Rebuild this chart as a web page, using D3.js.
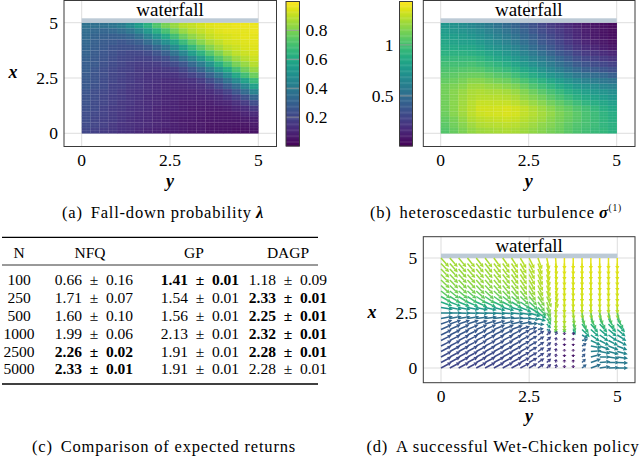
<!DOCTYPE html>
<html>
<head>
<meta charset="utf-8">
<script src="https://cdn.jsdelivr.net/npm/d3@7"></script>
<style>
  body { margin: 0; background: #fff; }
  svg { display: block; }
  text { font-family: "Liberation Serif", "Times New Roman", serif; fill: #000; }
</style>
</head>
<body>
<svg id="fig" width="640" height="457"></svg>
<script>
// ---------- data ----------
const axisTicks = [0, 2.5, 5];
const lambdaTicks = [0.2, 0.4, 0.6, 0.8];
const sigmaTicks = [0.5, 1];

// fall-down probability, rows from x=5 (top) to x=0, columns y=0..5 (20x20 cells)
const lambdaGrid = [
  [.37,.36,.36,.38,.41,.47,.55,.63,.72,.79,.84,.89,.91,.93,.95,.96,.96,.97,.97,.97],
  [.35,.33,.32,.33,.35,.39,.45,.53,.62,.70,.78,.84,.88,.91,.93,.95,.96,.96,.96,.97],
  [.34,.31,.30,.29,.30,.32,.36,.43,.51,.60,.69,.77,.83,.87,.91,.93,.94,.95,.96,.96],
  [.33,.30,.28,.27,.26,.27,.29,.34,.41,.49,.58,.67,.75,.82,.87,.90,.93,.94,.95,.96],
  [.32,.29,.27,.25,.24,.24,.25,.27,.32,.38,.47,.56,.66,.74,.81,.86,.90,.92,.94,.95],
  [.31,.28,.26,.24,.22,.21,.21,.22,.25,.30,.37,.45,.55,.64,.73,.80,.86,.90,.92,.94],
  [.30,.27,.25,.23,.21,.20,.19,.19,.21,.23,.28,.35,.43,.53,.63,.72,.79,.85,.89,.92],
  [.29,.27,.24,.22,.20,.18,.17,.17,.17,.19,.22,.26,.33,.41,.51,.62,.71,.79,.84,.89],
  [.29,.26,.23,.21,.19,.18,.16,.16,.15,.16,.17,.20,.25,.31,.40,.50,.60,.70,.78,.84],
  [.28,.25,.23,.20,.19,.17,.16,.14,.14,.14,.14,.16,.19,.23,.30,.38,.48,.59,.69,.77],
  [.27,.25,.22,.20,.18,.17,.15,.14,.13,.12,.12,.13,.14,.17,.22,.28,.37,.47,.57,.67],
  [.27,.24,.22,.19,.18,.16,.15,.13,.12,.11,.11,.11,.12,.13,.16,.21,.27,.35,.45,.56],
  [.26,.23,.21,.19,.17,.15,.14,.13,.12,.11,.10,.10,.10,.11,.12,.15,.19,.26,.34,.44],
  [.25,.23,.20,.18,.17,.15,.14,.12,.11,.10,.10,.09,.09,.09,.10,.11,.14,.18,.24,.32],
  [.25,.22,.20,.18,.16,.15,.13,.12,.11,.10,.09,.08,.08,.08,.08,.09,.10,.13,.17,.23],
  [.24,.22,.19,.17,.16,.14,.13,.12,.10,.09,.09,.08,.07,.07,.07,.07,.08,.10,.12,.16],
  [.23,.21,.19,.17,.15,.14,.12,.11,.10,.09,.08,.08,.07,.07,.06,.06,.06,.07,.09,.11],
  [.23,.20,.18,.17,.15,.13,.12,.11,.10,.09,.08,.07,.07,.06,.06,.06,.06,.06,.07,.08],
  [.22,.20,.18,.16,.14,.13,.12,.11,.10,.09,.08,.07,.06,.06,.05,.05,.05,.05,.05,.06],
  [.21,.19,.17,.16,.14,.13,.11,.10,.09,.08,.08,.07,.06,.06,.05,.05,.05,.04,.04,.05]
];

// heteroscedastic turbulence, same layout
const sigmaGrid = [
  [.75,.72,.69,.66,.62,.58,.54,.49,.45,.40,.35,.30,.25,.21,.17,.13,.10,.08,.06,.04],
  [.78,.75,.73,.70,.67,.62,.58,.54,.49,.44,.38,.33,.28,.24,.19,.15,.11,.09,.07,.05],
  [.81,.79,.77,.74,.71,.67,.62,.58,.53,.47,.42,.36,.31,.26,.21,.16,.13,.10,.08,.06],
  [.84,.82,.80,.79,.76,.71,.67,.62,.57,.51,.45,.39,.34,.29,.23,.18,.14,.11,.09,.06],
  [.87,.86,.85,.84,.81,.76,.72,.68,.63,.57,.50,.44,.39,.33,.27,.22,.18,.15,.12,.09],
  [.91,.90,.90,.89,.87,.83,.79,.75,.70,.63,.57,.51,.45,.39,.34,.28,.24,.21,.18,.15],
  [.95,.95,.95,.95,.93,.89,.85,.81,.76,.70,.64,.58,.52,.46,.40,.34,.30,.27,.24,.21],
  [.99,.99,.99,1.00,.98,.95,.92,.88,.83,.77,.71,.65,.59,.52,.46,.40,.36,.33,.30,.27],
  [1.02,1.03,1.04,1.05,1.04,1.01,.98,.95,.91,.85,.79,.72,.66,.60,.54,.48,.43,.40,.37,.34],
  [1.05,1.07,1.09,1.10,1.10,1.08,1.05,1.03,.98,.93,.87,.81,.75,.69,.63,.57,.53,.50,.47,.43],
  [1.08,1.10,1.13,1.16,1.16,1.14,1.12,1.10,1.06,1.01,.95,.90,.84,.78,.72,.67,.62,.59,.56,.53],
  [1.11,1.14,1.17,1.21,1.22,1.20,1.19,1.17,1.14,1.09,1.03,.98,.93,.87,.82,.76,.72,.69,.65,.62],
  [1.12,1.16,1.20,1.24,1.25,1.24,1.24,1.23,1.20,1.15,1.10,1.05,1.00,.95,.89,.84,.80,.76,.73,.69],
  [1.12,1.16,1.21,1.25,1.27,1.27,1.27,1.26,1.24,1.19,1.15,1.11,1.06,1.01,.96,.90,.86,.82,.78,.74],
  [1.11,1.17,1.22,1.27,1.30,1.30,1.30,1.30,1.28,1.24,1.20,1.16,1.11,1.07,1.02,.97,.92,.88,.84,.80],
  [1.11,1.17,1.23,1.28,1.32,1.32,1.33,1.34,1.32,1.29,1.25,1.21,1.17,1.12,1.08,1.03,.99,.94,.89,.85],
  [1.10,1.16,1.22,1.28,1.31,1.32,1.33,1.34,1.33,1.29,1.26,1.23,1.19,1.14,1.10,1.06,1.01,.97,.92,.88],
  [1.08,1.13,1.19,1.25,1.28,1.29,1.30,1.31,1.30,1.27,1.24,1.21,1.17,1.13,1.09,1.05,1.01,.97,.93,.89],
  [1.06,1.11,1.16,1.22,1.25,1.26,1.27,1.28,1.27,1.24,1.21,1.18,1.15,1.11,1.07,1.03,1.00,.97,.93,.90],
  [1.04,1.09,1.14,1.19,1.22,1.23,1.24,1.25,1.24,1.22,1.19,1.16,1.13,1.10,1.06,1.02,.99,.96,.94,.91]
];

// table (c)
const tableHeader = ["N", "NFQ", "GP", "DAGP"];
const sampleSizes = [100, 250, 500, 1000, 2500, 5000];
const nfqMean = [0.66, 1.71, 1.60, 1.99, 2.26, 2.33];
const nfqStd  = [0.16, 0.07, 0.10, 0.06, 0.02, 0.01];
const gpMean  = [1.41, 1.54, 1.56, 2.13, 1.91, 1.91];
const gpStd   = [0.01, 0.01, 0.01, 0.01, 0.01, 0.01];
const dagpMean = [1.18, 2.33, 2.25, 2.32, 2.28, 2.28];
const dagpStd  = [0.09, 0.01, 0.01, 0.01, 0.01, 0.01];
const nfqBest  = [false, false, false, false, true, true];
const gpBest   = [true, false, false, false, false, false];
const dagpBest = [false, true, true, true, true, false];

// policy (d): rows x=5 (top) .. 0 step 0.25, columns y=0..5 step 0.25
const quiverAngle = [
  [-48,-49,-50,-51,-52,-53,-54,-55,-57,-60,-64,-70,-78,-86,-90,-90,-90,-90,-90,-90,-90],
  [-47,-48,-49,-50,-51,-52,-53,-54,-56,-59,-63,-69,-77,-85,-90,-90,-90,-90,-90,-90,-90],
  [-46,-47,-48,-49,-50,-51,-52,-53,-55,-58,-62,-68,-76,-85,-90,-90,-90,-90,-90,-90,-90],
  [-45,-46,-47,-48,-49,-50,-51,-52,-54,-57,-61,-67,-75,-84,-90,-90,-90,-90,-90,-90,-90],
  [-44,-45,-46,-47,-48,-49,-50,-51,-53,-56,-60,-66,-74,-83,-90,-90,-90,-90,-90,-90,-90],
  [-42,-43,-44,-45,-46,-47,-48,-50,-52,-55,-59,-65,-73,-82,-90,-90,-90,-90,-90,-90,-90],
  [-38,-39,-40,-41,-42,-43,-44,-46,-48,-51,-56,-62,-71,-81,-90,-90,-90,-90,-90,-90,-90],
  [-30,-31,-32,-33,-34,-35,-36,-38,-40,-44,-49,-56,-67,-80,-90,-90,-90,-90,-90,-90,-90],
  [-20,-21,-22,-23,-24,-25,-26,-28,-30,-34,-42,-55,-72,-88,-90,-90,-90,-90,-90,-90,-90],
  [-9,-10,-10,-11,-12,-13,-14,-15,-17,-21,-30,-45,-68,-88,-90,-88,-88,-88,-88,-88,-88],
  [0,0,-1,-1,-2,-2,-3,-4,-6,-9,-16,-32,-62,-88,-90,-85,-80,-78,-76,-75,-75],
  [10,10,9,9,8,8,7,6,4,1,-5,-18,-55,-88,-90,-80,-68,-64,-62,-60,-60],
  [19,19,18,18,17,17,16,15,13,10,5,-5,-45,-88,-90,-75,-55,-50,-48,-47,-47],
  [24,24,24,23,23,23,22,22,20,18,15,10,-20,-85,-90,-70,-45,-42,-40,-40,-40],
  [26,26,26,26,26,26,26,26,27,28,30,34,42,70,90,80,-30,-35,-35,-34,-33],
  [27,27,27,27,27,27,27,27,28,28,30,34,42,75,90,90,10,-25,-28,-28,-27],
  [27,27,27,27,27,27,27,27,28,28,30,34,42,80,90,90,30,-10,-20,-22,-22],
  [28,28,28,28,28,28,28,28,28,28,30,34,42,80,90,90,40,5,-10,-15,-15],
  [28,28,28,28,28,28,28,28,28,28,30,34,42,80,90,90,45,15,0,-8,-8],
  [28,28,28,28,28,28,28,28,28,28,30,34,42,80,90,90,45,20,5,0,-3],
  [28,28,28,28,28,28,28,28,28,28,30,34,42,75,90,90,40,20,8,2,0]
];
const quiverLen = [
  [1,1,1,1,1,1,1,1,1,1,1,1,1,1,1,1,1,1,1,1,1],
  [1,1,1,1,1,1,1,1,1,1,1,1,1,1,1,1,1,1,1,1,1],
  [1,1,1,1,1,1,1,1,1,1,1,1,1,1,1,1,1,1,1,1,1],
  [1,1,1,1,1,1,1,1,1,1,1,1,1,1,1,1,1,1,1,1,1],
  [1,1,1,1,1,1,1,1,1,1,1,1,1,1,1,1,1,1,1,1,1],
  [1,1,1,1,1,1,1,1,1,1,1,1,1,1,1,1,1,1,1,1,1],
  [1,1,1,1,1,1,1,1,1,1,1,1,1,1,1,1,1,1,1,1,1],
  [1,1,1,1,1,1,1,1,1,1,1,1,1,1,1,1,1,1,1,1,1],
  [1,1,1,1,1,1,1,1,1,1,1,1,1,1,1,1,1,1,1,1,1],
  [1,1,1,1,1,1,1,1,1,1,1,1,.9,1,1,1,1,1,1,1,1],
  [1,1,1,1,1,1,1,1,1,1,1,.85,.8,1,1,1,1,1,1,1,1],
  [1,1,1,1,1,1,1,1,1,1,.85,.7,.65,.95,.95,.9,1,1,1,1,1],
  [1,1,1,1,1,1,1,1,1,1,.75,.55,.5,.75,.75,.7,.95,.95,.95,.95,.95],
  [1,1,1,1,1,1,1,1,1,.85,.7,.5,.35,.35,.3,.5,.9,.9,.9,.9,.9],
  [1,1,1,1,1,1,1,1,1,.9,.8,.65,.5,.35,.25,.25,.6,.9,.9,.9,.9],
  [1,1,1,1,1,1,1,1,1,.9,.8,.65,.5,.3,.22,.22,.5,.9,.9,.9,.9],
  [1,1,1,1,1,1,1,1,1,.9,.8,.65,.5,.3,.22,.2,.45,.9,.9,.9,.9],
  [1,1,1,1,1,1,1,1,1,.9,.8,.65,.5,.3,.2,.2,.4,.9,.9,.9,.9],
  [1,1,1,1,1,1,1,1,1,.9,.8,.65,.5,.3,.22,.22,.4,.9,.9,.9,.9],
  [1,1,1,1,1,1,1,1,1,.9,.8,.65,.5,.3,.25,.25,.45,.9,.9,.9,.9],
  [1,1,1,1,1,1,1,1,1,.9,.8,.65,.5,.35,.25,.25,.5,.9,.9,.9,.9]
];
const quiverColor = [
  [.86,.86,.86,.87,.87,.87,.88,.88,.88,.89,.90,.91,.93,.95,.96,.96,.96,.96,.96,.96,.96],
  [.85,.85,.85,.86,.86,.86,.87,.87,.88,.88,.89,.90,.92,.94,.95,.95,.95,.95,.95,.95,.95],
  [.84,.84,.84,.85,.85,.85,.86,.86,.87,.87,.88,.90,.92,.94,.95,.95,.95,.95,.95,.95,.95],
  [.83,.83,.83,.84,.84,.84,.85,.85,.86,.87,.88,.89,.91,.93,.94,.94,.94,.94,.94,.94,.94],
  [.82,.82,.82,.83,.83,.83,.84,.84,.85,.86,.87,.88,.91,.93,.94,.94,.94,.94,.94,.94,.94],
  [.79,.79,.80,.80,.80,.81,.81,.82,.83,.84,.85,.87,.90,.93,.94,.94,.94,.94,.94,.94,.94],
  [.75,.75,.76,.76,.77,.77,.78,.79,.80,.81,.83,.85,.88,.92,.93,.93,.93,.93,.93,.93,.93],
  [.70,.70,.71,.71,.72,.72,.73,.74,.75,.76,.78,.81,.85,.90,.93,.93,.93,.93,.93,.93,.93],
  [.62,.62,.63,.63,.64,.64,.65,.66,.67,.69,.72,.77,.84,.90,.92,.92,.92,.92,.92,.92,.92],
  [.52,.52,.53,.53,.54,.54,.55,.56,.57,.59,.63,.70,.80,.89,.91,.90,.90,.90,.89,.88,.88],
  [.45,.45,.45,.46,.46,.46,.47,.47,.48,.50,.54,.62,.75,.88,.90,.85,.80,.78,.77,.76,.75],
  [.36,.36,.36,.37,.37,.37,.38,.38,.39,.41,.45,.52,.68,.86,.88,.80,.72,.70,.69,.68,.68],
  [.29,.29,.29,.30,.30,.30,.30,.31,.32,.33,.36,.42,.58,.84,.85,.72,.66,.64,.63,.62,.62],
  [.28,.28,.28,.28,.28,.28,.28,.28,.28,.28,.29,.31,.40,.75,.75,.60,.60,.59,.58,.57,.57],
  [.27,.27,.27,.27,.27,.27,.27,.27,.27,.26,.25,.24,.22,.20,.10,.10,.45,.55,.54,.53,.53],
  [.26,.26,.26,.26,.26,.26,.26,.26,.26,.26,.25,.24,.22,.17,.08,.08,.35,.50,.50,.50,.49],
  [.25,.25,.25,.25,.25,.25,.25,.25,.25,.25,.25,.24,.22,.15,.07,.06,.30,.46,.47,.47,.47],
  [.24,.24,.24,.24,.24,.24,.24,.24,.24,.24,.24,.23,.21,.14,.06,.05,.28,.43,.44,.45,.45],
  [.23,.23,.23,.23,.23,.23,.23,.23,.23,.23,.23,.22,.20,.13,.06,.05,.28,.40,.42,.42,.42],
  [.22,.22,.22,.22,.22,.22,.22,.22,.22,.22,.22,.21,.19,.14,.07,.06,.30,.38,.40,.40,.40],
  [.21,.21,.21,.21,.21,.21,.21,.21,.21,.21,.21,.20,.18,.16,.08,.07,.32,.37,.38,.39,.40]
];

// ---------- layout ----------
const svg = d3.select("#fig");
const FRAME = "#3a3a3a", GRID = "#d4d4d4", BAND = "#bccad6";
const TICK_FONT = 17.5;

const topX = d3.scaleLinear([0, 5], [133.3, 22.7]);   // state x (vertical) in top panels
const yA = d3.scaleLinear([0, 5], [81.7, 258.3]);
const yB = d3.scaleLinear([0, 5], [440.7, 616.7]);
const yD = d3.scaleLinear([0, 5], [441, 617.3]);
const xD = d3.scaleLinear([0, 5], [368, 258]);

const boxA = { x0: 64, y0: 0.5, x1: 276.5, y1: 146.5 };
const boxB = { x0: 423.3, y0: 0.5, x1: 635, y1: 146.5 };
const boxD = { x0: 423.3, y0: 236.7, x1: 635, y1: 382.7 };

function axesFrame(box, hs, vs, showLeft) {
  const g = svg.append("g");
  g.append("rect")
    .attr("x", box.x0).attr("y", box.y0)
    .attr("width", box.x1 - box.x0).attr("height", box.y1 - box.y0)
    .attr("fill", "#fff");
  axisTicks.forEach(t => {
    g.append("line").attr("x1", hs(t)).attr("x2", hs(t))
      .attr("y1", box.y0).attr("y2", box.y1)
      .attr("stroke", GRID).attr("stroke-width", 0.8);
    g.append("line").attr("x1", box.x0).attr("x2", box.x1)
      .attr("y1", vs(t)).attr("y2", vs(t))
      .attr("stroke", GRID).attr("stroke-width", 0.8);
    g.append("text").attr("x", hs(t)).attr("y", box.y1 + 19.5)
      .attr("text-anchor", "middle").attr("font-size", TICK_FONT)
      .text(d3.format("~g")(t));
    if (showLeft) {
      g.append("text").attr("x", box.x0 - 6).attr("y", vs(t) + 6)
        .attr("text-anchor", "end").attr("font-size", TICK_FONT)
        .text(d3.format("~g")(t));
    }
  });
  return g;
}

function frameBorder(box) {
  svg.append("rect")
    .attr("x", box.x0).attr("y", box.y0)
    .attr("width", box.x1 - box.x0).attr("height", box.y1 - box.y0)
    .attr("fill", "none").attr("stroke", FRAME).attr("stroke-width", 1);
}

function waterfall(g, hs, vs, baseline) {
  g.append("rect")
    .attr("x", hs(0)).attr("width", hs(5) - hs(0))
    .attr("y", vs(5) - 4.4).attr("height", 4.4)
    .attr("fill", BAND);
  g.append("text")
    .attr("x", (hs(0) + hs(5)) / 2).attr("y", baseline)
    .attr("text-anchor", "middle").attr("font-size", 19)
    .text("waterfall");
}

function heatmap(g, grid, hs, vs, color) {
  const cells = [];
  grid.forEach((row, i) => row.forEach((v, j) => cells.push({ i, j, v })));
  const nr = grid.length, nc = grid[0].length;
  const dy = 5 / nc, dx = 5 / nr;
  g.append("g").selectAll("rect").data(cells).join("rect")
    .attr("x", d => hs(d.j * dy))
    .attr("y", d => vs(5 - d.i * dx))
    .attr("width", hs(dy) - hs(0) + 0.25)
    .attr("height", vs(0) - vs(dx) + 0.25)
    .attr("fill", d => color(d.v));
  // faint mesh like the rasterised surface plot
  const mesh = d3.range(1, 40).map(k => k * 0.125);
  const gm = g.append("g").attr("stroke", "#fff").attr("stroke-opacity", 0.13).attr("stroke-width", 0.7);
  mesh.forEach(m => {
    gm.append("line").attr("x1", hs(0)).attr("x2", hs(5)).attr("y1", vs(m)).attr("y2", vs(m));
    gm.append("line").attr("x1", hs(m)).attr("x2", hs(m)).attr("y1", vs(0)).attr("y2", vs(5))
      .attr("stroke-opacity", 0.07);
  });
}

function colorbar(x0, x1, y0, y1, domain, ticks, labelSide) {
  const g = svg.append("g");
  const cs = d3.scaleLinear(domain, [y1, y0]);
  const steps = d3.range(0, 120);
  const dv = (domain[1] - domain[0]) / steps.length;
  g.selectAll("rect.s").data(steps).join("rect")
    .attr("x", x0).attr("width", x1 - x0)
    .attr("y", k => cs(domain[0] + (k + 1) * dv))
    .attr("height", k => cs(domain[0] + k * dv) - cs(domain[0] + (k + 1) * dv) + 0.4)
    .attr("fill", k => d3.interpolateViridis((k + 0.5) / steps.length));
  ticks.forEach(t => {
    g.append("line").attr("x1", x0).attr("x2", x1)
      .attr("y1", cs(t)).attr("y2", cs(t))
      .attr("stroke", "#9a9a9a").attr("stroke-width", 0.8);
    g.append("text")
      .attr("x", labelSide === "right" ? x1 + 6 : x0 - 6)
      .attr("y", cs(t) + 6)
      .attr("text-anchor", labelSide === "right" ? "start" : "end")
      .attr("font-size", TICK_FONT)
      .text(d3.format("~g")(t));
  });
  g.append("rect").attr("x", x0).attr("y", y0)
    .attr("width", x1 - x0).attr("height", y1 - y0)
    .attr("fill", "none").attr("stroke", FRAME).attr("stroke-width", 1);
}

function axisLabel(x, y, s) {
  svg.append("text").attr("x", x).attr("y", y)
    .attr("text-anchor", "middle").attr("font-size", 18)
    .attr("font-weight", "bold").attr("font-style", "italic")
    .text(s);
}

function caption(cx, y, tag, body, mathSym, sup) {
  const t = svg.append("text").attr("x", cx).attr("y", y)
    .attr("text-anchor", "middle").attr("font-size", 16.5)
    .attr("letter-spacing", 0.8);
  t.append("tspan").text(tag);
  t.append("tspan").attr("dx", 8).text(body);
  if (mathSym) {
    t.append("tspan").attr("dx", 4).attr("font-weight", "bold")
      .attr("font-style", "italic").text(mathSym);
  }
  if (sup) {
    t.append("tspan").attr("font-size", 9.5).attr("dy", -7).text(sup);
  }
}

// ---------- (a) fall-down probability ----------
const gA = axesFrame(boxA, yA, topX, true);
heatmap(gA, lambdaGrid, yA, topX, v => d3.interpolateViridis(v));
waterfall(gA, yA, topX, 16);
frameBorder(boxA);
colorbar(286, 299.5, 1.5, 146, [0, 1], lambdaTicks, "right");
axisLabel(13, 78, "x");
axisLabel(170, 186.5, "y");
caption(163, 218, "(a)", "Fall-down probability", "\u03bb");

// ---------- (b) turbulence ----------
const sigmaColor = d3.scaleSequential([0.01, 1.425], d3.interpolateViridis);
const gB = axesFrame(boxB, yB, topX, false);
heatmap(gB, sigmaGrid, yB, topX, sigmaColor);
waterfall(gB, yB, topX, 16);
frameBorder(boxB);
colorbar(399.5, 412.5, 1.5, 146, [0.01, 1.425], sigmaTicks, "left");
axisLabel(528.7, 186.5, "y");
caption(496, 218, "(b)", "heteroscedastic turbulence", "\u03c3", "(1)");

// ---------- (c) table ----------
const gC = svg.append("g");
const colX = [19, 94, 200, 288];
const headX = [19, 90, 194, 288];
const rowY = sampleSizes.map((_, i) => 285.1 + i * 17.85);
gC.append("line").attr("x1", 2).attr("x2", 318).attr("y1", 237.3).attr("y2", 237.3)
  .attr("stroke", "#000").attr("stroke-width", 1.3);
gC.append("line").attr("x1", 2).attr("x2", 318).attr("y1", 265).attr("y2", 265)
  .attr("stroke", "#000").attr("stroke-width", 0.8);
gC.append("line").attr("x1", 2).attr("x2", 318).attr("y1", 384).attr("y2", 384)
  .attr("stroke", "#000").attr("stroke-width", 1.3);
tableHeader.forEach((h, k) => {
  gC.append("text").attr("x", headX[k]).attr("y", 257.8)
    .attr("text-anchor", "middle").attr("font-size", 15.5).text(h);
});
const fmt = d3.format(".2f");
const cols = [
  { mean: nfqMean, std: nfqStd, best: nfqBest },
  { mean: gpMean, std: gpStd, best: gpBest },
  { mean: dagpMean, std: dagpStd, best: dagpBest }
];
sampleSizes.forEach((n, i) => {
  gC.append("text").attr("x", colX[0]).attr("y", rowY[i])
    .attr("text-anchor", "middle").attr("font-size", 15.5).text(n);
  cols.forEach((c, k) => {
    gC.append("text").attr("x", colX[k + 1]).attr("y", rowY[i])
      .attr("text-anchor", "middle").attr("font-size", 15.5)
      .attr("font-weight", c.best[i] ? "bold" : "normal")
      .text(`${fmt(c.mean[i])}\u2002\u00b1\u2002${fmt(c.std[i])}`);
  });
});
caption(164, 452, "(c)", "Comparison of expected returns");

// ---------- (d) policy ----------
const gD = axesFrame(boxD, yD, xD, true);
waterfall(gD, yD, xD, 252);
const ARROW = 12, HEAD = 4, HALF = 2.1;
const arrows = [];
quiverAngle.forEach((row, r) => row.forEach((a, c) => {
  arrows.push({ y: c * 0.25, x: 5 - r * 0.25, a, len: quiverLen[r][c], col: quiverColor[r][c] });
}));
const ga = gD.append("g");
arrows.forEach(d => {
  const px = yD(d.y), py = xD(d.x);
  const L = ARROW * d.len;
  const rad = d.a * Math.PI / 180;
  const ux = Math.cos(rad), uy = -Math.sin(rad);
  const tx = px + L * ux, ty = py + L * uy;
  const h = Math.min(HEAD, L * 0.6);
  const bx = tx - h * ux, by = ty - h * uy;
  const c = d3.interpolateViridis(d.col);
  ga.append("line").attr("x1", px).attr("y1", py).attr("x2", bx).attr("y2", by)
    .attr("stroke", c).attr("stroke-width", 1.5);
  ga.append("path")
    .attr("d", `M${tx},${ty}L${bx - HALF * uy},${by + HALF * ux}L${bx + HALF * uy},${by - HALF * ux}Z`)
    .attr("fill", c);
});
frameBorder(boxD);
axisLabel(372, 318, "x");
axisLabel(529, 422, "y");
caption(503, 452, "(d)", "A successful Wet-Chicken policy");
</script>
</body>
</html>
